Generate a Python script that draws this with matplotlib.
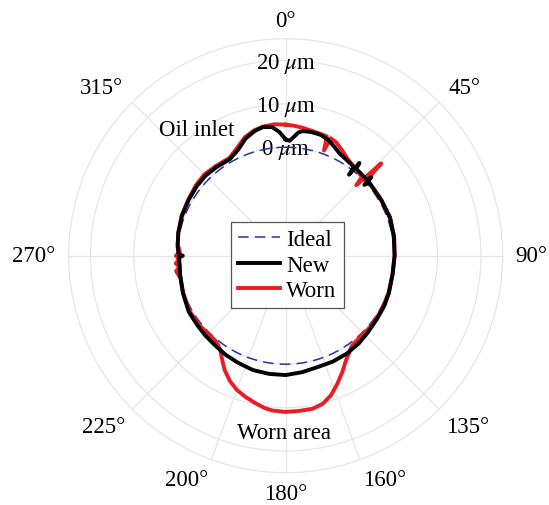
import numpy as np
import matplotlib.pyplot as plt

plt.rcParams['font.family'] = ['Liberation Serif', 'DejaVu Serif']
plt.rcParams['mathtext.fontset'] = 'stix'

# Roundness profiles (deviation from nominal radius, um) vs angle (deg)
new_theta = [0, 2, 4, 6, 8, 12, 16, 20, 24, 28, 32, 36, 37.5, 38, 38.5, 39,
             42, 46, 47, 47.5, 48, 48.5, 52, 60, 70, 80, 90, 100, 110, 117,
             125, 133, 140, 148, 156, 164, 172, 180, 188, 196, 204, 211, 218,
             225, 232, 240, 250, 260, 265, 269, 270, 271, 275, 282, 291, 300,
             308, 315, 322, 330, 336, 341, 346, 350, 354, 357, 360]
new_r = [1.8, 1.5, 2.5, 3.6, 4.0, 4.1, 4.0, 3.5, 2.5, 1.6, 1.2, 0.9, 0.8, -1.3,
         2.3, 0.8, 0.7, 0.6, 0.6, 1.8, -0.6, 0.6, 0.5, 0.5, 0.6, 0.3, 0.1, 0.0,
         0.3, 0.5, 0.6, 0.9, 1.3, 1.6, 1.7, 1.7, 2.1, 2.5, 2.5, 2.4, 2.0, 1.7,
         1.3, 1.1, 0.9, 0.8, 0.2, -0.3, -0.5, -0.4, -1.3, -0.3, 0.0, 0.3, 0.6,
         0.8, 1.0, 1.1, 0.9, 0.7, 1.8, 3.5, 4.6, 5.1, 4.8, 3.6, 1.8]

worn_theta = [0, 4, 8, 12, 16, 19, 20, 21, 24, 28, 32, 36, 40, 44, 45, 46, 47,
              50, 60, 70, 80, 90, 100, 110, 120, 130, 140, 144, 147, 150, 154,
              158, 162, 166, 170, 175, 180, 185, 188, 192, 196, 200, 204, 208,
              211, 214, 217, 220, 230, 240, 250, 258, 262, 264, 266, 268, 270,
              272, 276, 282, 291, 300, 308, 315, 322, 330, 336, 341, 346, 350,
              355, 360]
worn_r = [5.2, 5.0, 4.7, 4.4, 4.2, 4.1, 0.8, 4.0, 3.6, 2.6, 1.6, 1.0, 0.6, 0.3,
          -2.0, 5.6, 0.4, 0.5, 0.5, 0.6, 0.4, 0.1, 0.0, 0.2, 0.4, 0.5, 0.5, 0.8,
          1.8, 2.8, 4.8, 6.8, 8.8, 10.2, 10.8, 10.9, 11.0, 10.8, 10.4, 9.6, 8.8,
          7.9, 6.6, 4.9, 3.3, 1.8, 0.8, 0.4, 0.5, 0.6, 0.1, -0.2, 0.5, -0.4, 0.4,
          -0.5, 0.3, -0.6, 0.0, 0.3, 0.7, 0.9, 1.3, 1.5, 1.2, 1.0, 2.3, 3.9, 4.8,
          5.2, 5.4, 5.2]

ideal_r = 0.0

r_ticks = [0, 10, 20]
r_tick_labels = [r'0 $\mu$m', r'10 $\mu$m', r'20 $\mu$m']
theta_ticks = [0, 45, 90, 135, 160, 180, 200, 225, 270, 315]
theta_tick_labels = ['0°', '45°', '90°', '135°', '160°', '180°', '200°',
                     '225°', '270°', '315°']

fs = 16.5
grid_col = '#e6e6e6'

fig = plt.figure(figsize=(5.49, 5.06), dpi=100)
ax = fig.add_axes([0.1251, 0.0638, 0.7905, 0.8577], projection='polar')
ax.set_theta_zero_location('N')
ax.set_theta_direction(-1)
ax.set_ylim(-25, 25)

ax.set_yticks(r_ticks)
ax.set_yticklabels([])
ax.set_xticks(np.deg2rad(theta_ticks))
ax.set_xticklabels([])
ax.grid(True, color=grid_col, linewidth=0.9)
ax.spines['polar'].set_color(grid_col)
ax.spines['polar'].set_linewidth(0.9)
ax.tick_params(length=0)

th = np.linspace(0, 2 * np.pi, 361)
ideal_line, = ax.plot(th, np.full_like(th, ideal_r), color='#2b35a0',
                      linewidth=1.1, dashes=(7, 4), label='Ideal', zorder=3)
worn_line, = ax.plot(np.deg2rad(worn_theta), worn_r, color='#ec1c24',
                     linewidth=2.8, label='Worn', zorder=4)
new_line, = ax.plot(np.deg2rad(new_theta), new_r, color='black',
                    linewidth=2.8, label='New', zorder=5)

# radial labels sit on their circles along the 0 deg spoke
for r, lab in zip(r_ticks, r_tick_labels):
    ax.text(0, r - 0.5, lab, ha='center', va='center', fontsize=fs, zorder=2)

# angle labels just outside the rim, aligned away from the centre
for t, lab in zip(theta_ticks, theta_tick_labels):
    s, c = np.sin(np.deg2rad(t)), np.cos(np.deg2rad(t))
    ha = 'left' if s > 1e-6 else ('right' if s < -1e-6 else 'center')
    if c > 1e-6:
        va, rr = 'baseline', 28
    elif c < -1e-6:
        va, rr = 'top', 27.3
    else:
        va, rr = 'center', 28
    ax.text(np.deg2rad(t), rr, lab, ha=ha, va=va, fontsize=fs, clip_on=False)

ax.text(np.deg2rad(325), 10.6, 'Oil inlet', ha='center', va='center', fontsize=fs)
ax.text(np.deg2rad(180.6), 15.8, 'Worn area', ha='center', va='center', fontsize=fs)

leg = ax.legend(handles=[ideal_line, new_line, worn_line], loc='center',
                bbox_to_anchor=(0.5237, 0.4737), bbox_transform=fig.transFigure,
                fontsize=fs, fancybox=False, framealpha=1, edgecolor='#555555',
                borderpad=0.3, handlelength=1.8, handletextpad=0.3,
                labelspacing=0.2, borderaxespad=0)
leg.get_frame().set_linewidth(0.9)

fig.savefig('out.png', dpi=100)
